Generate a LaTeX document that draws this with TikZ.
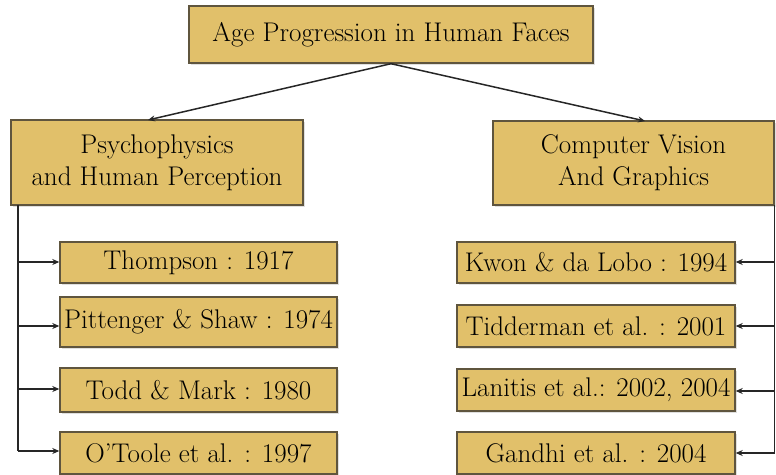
\documentclass[tikz,border=0pt]{standalone}
\usetikzlibrary{arrows.meta,shadows}
\definecolor{boxfill}{RGB}{225,192,106}
\definecolor{boxline}{RGB}{95,85,62}
\begin{document}
\begin{tikzpicture}[x=1pt,y=-1pt,
  box/.style={draw=boxline,line width=1.4pt,fill=boxfill,inner sep=0pt,align=center,
    font=\fontsize{27}{32}\selectfont,
    drop shadow={opacity=0.25,shadow xshift=1.5pt,shadow yshift=-1.5pt}},
  conn/.style={line width=1.5pt,black!85},
  arr/.style={conn,-{Stealth[length=7pt,width=6pt]}}]
\useasboundingbox (0,0) rectangle (776,474);
\node[box,minimum width=404pt,minimum height=57pt] (top) at (391,34.5) {Age Progression in Human Faces};
\node[box,minimum width=292pt,minimum height=85pt] (psy) at (157,162.5) {Psychophysics\\and Human Perception};
\node[box,minimum width=281pt,minimum height=84pt] (cv) at (633.5,163) {Computer Vision\\And Graphics};
\node[box,minimum width=277pt,minimum height=41pt] (l1) at (198.5,262.5) {Thompson : 1917};
\node[box,minimum width=277pt,minimum height=50pt] (l2) at (198.5,322) {Pittenger \& Shaw : 1974};
\node[box,minimum width=277pt,minimum height=44pt] (l3) at (198.5,390) {Todd \& Mark : 1980};
\node[box,minimum width=277pt,minimum height=42pt] (l4) at (198.5,453) {O'Toole et al. : 1997};
\node[box,minimum width=278pt,minimum height=41pt] (r1) at (596,262.5) {Kwon \& da Lobo : 1994};
\node[box,minimum width=278pt,minimum height=42pt] (r2) at (596,326) {Tidderman et al. : 2001};
\node[box,minimum width=278pt,minimum height=42pt] (r3) at (596,390) {Lanitis et al.: 2002, 2004};
\node[box,minimum width=278pt,minimum height=42pt] (r4) at (596,453) {Gandhi et al. : 2004};
\draw[arr] (top.south) -- (148,120);
\draw[arr] (top.south) -- (645,121);
\coordinate (lt) at (18,205);
\coordinate (lb) at (18,451);
\draw[conn] (lt) -- (lb);
\draw[arr] (18,262) -- (l1.west |- 0,262);
\draw[arr] (18,326) -- (l2.west |- 0,326);
\draw[arr] (18,389) -- (l3.west |- 0,389);
\draw[arr] (lb) -- (l4.west |- 0,451);
\coordinate (rt) at (774.5,205);
\coordinate (rb) at (774.5,453);
\draw[conn] (rt) -- (rb);
\draw[arr] (774.5,262) -- (r1.east |- 0,262);
\draw[arr] (774.5,326) -- (r2.east |- 0,326);
\draw[arr] (774.5,391) -- (r3.east |- 0,391);
\draw[arr] (rb) -- (r4.east |- 0,453);
\end{tikzpicture}
\end{document}
